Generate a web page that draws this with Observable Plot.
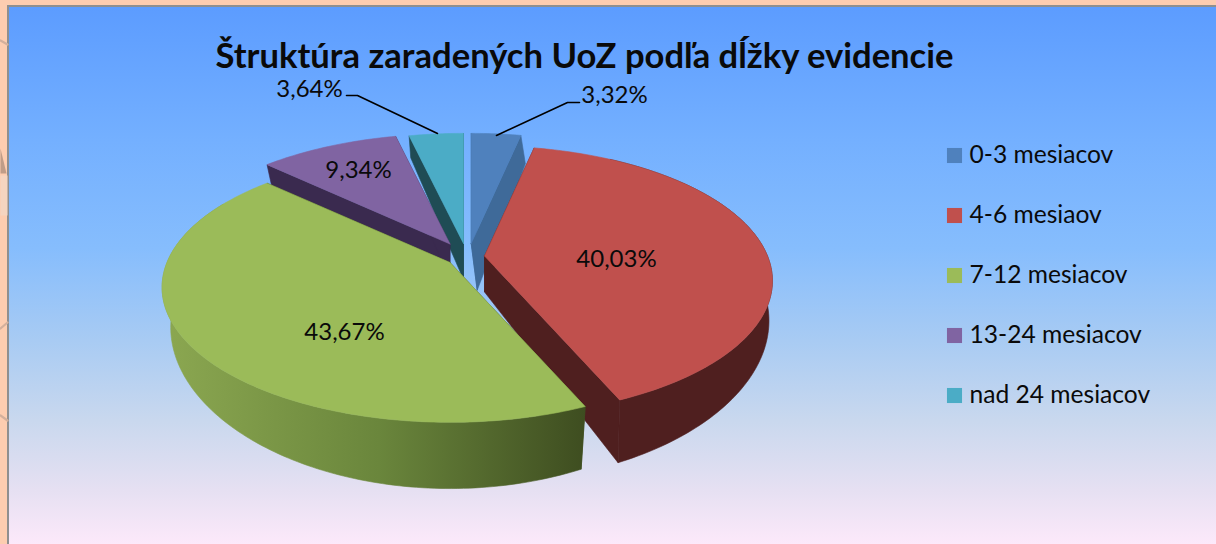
<!DOCTYPE html>
<html>
<head>
<meta charset="utf-8">
<script src="https://cdn.jsdelivr.net/npm/d3@7"></script>
<script src="https://cdn.jsdelivr.net/npm/@observablehq/plot@0.6"></script>
<style>
html,body{margin:0;padding:0;width:1216px;height:544px;overflow:hidden;background:#fdcdb0}
#panel{position:absolute;left:7px;top:5px;width:1209px;height:539px;box-sizing:border-box;border-left:2px solid #8f8f8f;border-top:2px solid #8f8f8f;
background:linear-gradient(180deg,#5c9cff 0%,#74b0ff 25%,#86bdfd 45%,#a8cbf3 62%,#c9d8ee 77%,#e6e0f2 90%,#fce9fa 100%)}
#chart{position:absolute;left:0;top:0}
</style>
</head>
<body>
<div id="panel"></div>
<div id="chart"></div>
<script>
const title = "Štruktúra zaradených UoZ podľa dĺžky evidencie";
const categories = ["0-3 mesiacov","4-6 mesiaov","7-12 mesiacov","13-24 mesiacov","nad 24 mesiacov"];
const values = [3.32,40.03,43.67,9.34,3.64];
const topColors = ["#4f81bd","#c0504d","#9bbb59","#8064a2","#4bacc6"];
const wallColors = ["#3f6a99","#4f1f1f","url(#greenWall)","#3a2a4f","#1f4c55"];

// pie geometry (perspective disc, exploded slices)
const R = 283, K = 130.4, P = 0.184, DROP = 36;
const apexX = [470.7,484,449.5,449.5,463], apexY = [243,255.5,262,243.5,243];
const dropScale = [1.3,1,1,1,1], dropShift = [6,0,0,0,0], contraction = [0.03,0.012,0.03,0.03,0.03];
const fmt = v => v.toFixed(2).replace(".",",")+"%";
const proj = (i,deg) => {
  const a0 = deg*Math.PI/180;
  const a = a0 + 0.6*Math.max(0,-Math.cos(a0))*Math.PI/180; // slight foreshortening of the near half
  const u = Math.sin(a), v = -Math.cos(a), s = 1/(1-P*v);
  return {x: apexX[i]+R*u*s, y: apexY[i]+K*v*s, s};
};
const drop = (i,p) => ({
  x: p.x+(apexX[i]-p.x)*contraction[i]+dropShift[i],
  y: p.y+DROP*dropScale[i]*p.s*p.s*p.s
});

let cum = 0;
const slices = values.map((v,i)=>{const a0=cum*3.6; cum+=v; return {i,a0,a1:cum*3.6,v};});
const order = [4,0,3,1,2];
const rows = []; let id = 0;
const poly = (pts,c)=>{const k=id++; [...pts,pts[0]].forEach(p=>rows.push({x:p.x,y:p.y,id:k,c}));};
for (const oi of order){
  const s = slices[oi], i = s.i;
  const ctr = {x:apexX[i],y:apexY[i],s:1};
  const solid = i===2 ? "#3e4d20" : wallColors[i];
  for (const ang of [s.a0,s.a1]){
    const e = proj(i,ang);
    poly([ctr,e,drop(i,e),drop(i,ctr)],solid);
  }
  const n = Math.max(4,Math.round(s.a1-s.a0));
  const arc = d3.range(n+1).map(j=>s.a0+(s.a1-s.a0)*j/n);
  const front = arc.filter(a=>a>30 && a<300).map(a=>proj(i,a));
  if (front.length>1) poly([...front,...front.map(p=>drop(i,p)).reverse()],wallColors[i]);
  poly([ctr,...arc.map(a=>proj(i,a))],topColors[i]);
}

const labelX=[614,616,344,358,309], labelY=[95,259,332,170,89];
const labels = values.map((v,i)=>({t:fmt(v),x:labelX[i],y:labelY[i]}));
const leaders = [
  {x:496,y:135,id:0},{x:567,y:102,id:0},{x:579,y:102,id:0},
  {x:437,y:133,id:1},{x:357,y:95,id:1},{x:346,y:95,id:1}
];
const legend = categories.map((t,i)=>({t,c:topColors[i],y:155+60*i}));
// faint background-picture remnants on the peach page edge
const edgeMarks = [
  {x:0,y:40,id:0},{x:7,y:44,id:0},
  {x:0,y:328,id:1},{x:7,y:322,id:1},
  {x:0,y:415,id:2},{x:7,y:420,id:2}
];
const edgeWedge = [{x:0,y:148},{x:6,y:173},{x:0,y:173}];
const edgePatch = [{x:0,y:175},{x:7,y:175},{x:7,y:215},{x:0,y:215}];

const font = "Lato, Carlito, sans-serif";
const plot = Plot.plot({
  width:1216,height:544,margin:0,
  x:{domain:[0,1216],range:[0,1216],axis:null},
  y:{domain:[0,544],range:[0,544],axis:null},
  color:{type:"identity"},
  style:{background:"transparent",fontFamily:font},
  marks:[
    () => {
      const defs = d3.create("svg:defs");
      const g = defs.append("linearGradient").attr("id","greenWall")
        .attr("gradientUnits","userSpaceOnUse").attr("x1",172).attr("x2",585).attr("y1",0).attr("y2",0);
      g.append("stop").attr("offset",0).attr("stop-color","#8aa650");
      g.append("stop").attr("offset",0.5).attr("stop-color","#6a863c");
      g.append("stop").attr("offset",1).attr("stop-color","#3e4d20");
      return defs.node();
    },
    Plot.line(edgePatch,{x:"x",y:"y",fill:"#f5d5c0",stroke:"none"}),
    Plot.line(edgeMarks,{x:"x",y:"y",z:"id",stroke:"#d3b09c",strokeWidth:2.2}),
    Plot.line(edgeWedge,{x:"x",y:"y",fill:"#c09d88",stroke:"none"}),
    Plot.line(rows,{x:"x",y:"y",z:"id",fill:"c",stroke:"c",strokeWidth:0.6}),
    Plot.line(leaders,{x:"x",y:"y",z:"id",stroke:"#000",strokeWidth:1.6}),
    Plot.text(labels,{x:"x",y:"y",text:"t",fontSize:24,fill:"#0a0a0a",fontFamily:font}),
    Plot.text([title],{x:()=>584,y:()=>56.5,text:d=>d,fontSize:34.6,fontWeight:700,fill:"#0a0a0a",fontFamily:font}),
    Plot.dot(legend,{x:()=>954,y:"y",symbol:"square",r:8.5,fill:"c",stroke:null}),
    Plot.text(legend,{x:()=>969,y:"y",text:"t",textAnchor:"start",fontSize:24.6,fill:"#0a0a0a",fontFamily:font})
  ]
});
document.getElementById("chart").appendChild(plot);
</script>
</body>
</html>
